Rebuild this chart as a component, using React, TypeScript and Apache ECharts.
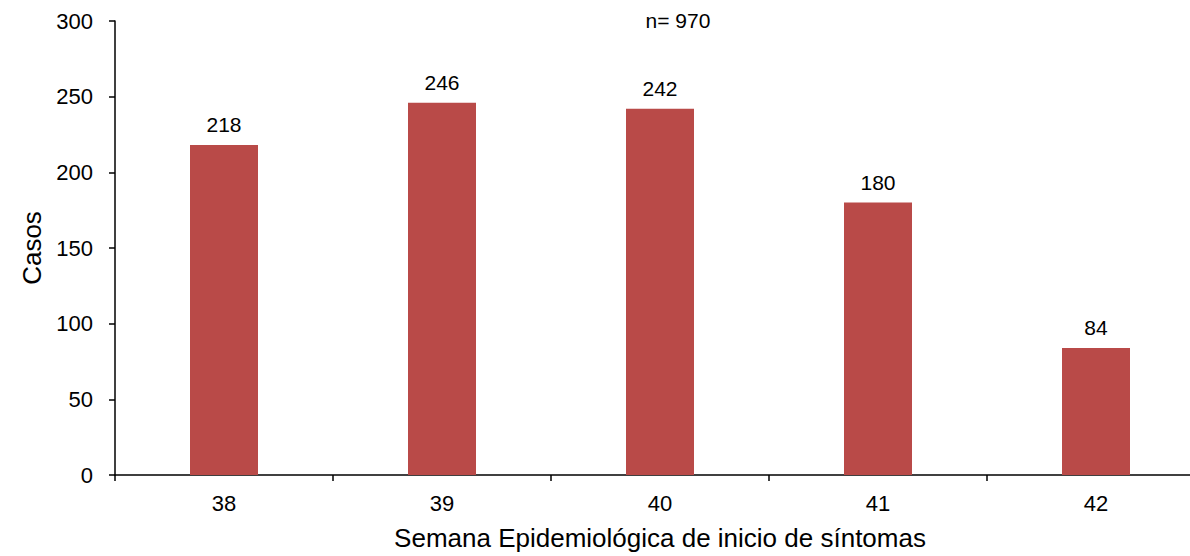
import React, { useEffect, useRef } from "react";
import * as echarts from "echarts";

const categories = ["38", "39", "40", "41", "42"];
const values = [218, 246, 242, 180, 84];
const yTicks = [0, 50, 100, 150, 200, 250, 300];
const annotation = "n= 970";

export default function App() {
  const ref = useRef<HTMLDivElement>(null);
  useEffect(() => {
    if (!ref.current) return;
    const chart = echarts.init(ref.current, null, { renderer: "svg" });
    const font = "Liberation Sans, Arial, sans-serif";
    chart.setOption({
      animation: false,
      backgroundColor: "#ffffff",
      textStyle: { fontFamily: font },
      grid: { left: 115, width: 1090, top: 21, height: 458, containLabel: false },
      graphic: [
        {
          type: "text",
          x: 678,
          y: 20,
          style: {
            text: annotation,
            fontSize: 21,
            fill: "#000",
            fontFamily: font,
            align: "center",
            verticalAlign: "middle",
          },
        },
      ],
      xAxis: {
        type: "category",
        data: categories,
        name: "Semana Epidemiológica de inicio de síntomas",
        nameLocation: "middle",
        nameGap: 50,
        nameTextStyle: { fontSize: 26, color: "#000", fontFamily: font },
        axisLine: { lineStyle: { color: "#000", width: 1.5 } },
        axisTick: { show: true, length: 6, lineStyle: { color: "#000", width: 1.5 } },
        axisLabel: { fontSize: 22, color: "#000", margin: 17, fontFamily: font },
      },
      yAxis: {
        type: "value",
        min: 0,
        max: yTicks[yTicks.length - 1],
        interval: 50,
        name: "Casos",
        nameLocation: "middle",
        nameGap: 70,
        nameRotate: 90,
        nameTextStyle: { fontSize: 26, color: "#000", fontFamily: font },
        axisLine: { show: true, lineStyle: { color: "#000", width: 1.5 } },
        axisTick: { show: true, length: 6, lineStyle: { color: "#000", width: 1.5 } },
        axisLabel: { fontSize: 22, color: "#000", margin: 22, fontFamily: font },
        splitLine: { show: false },
      },
      series: [
        {
          type: "bar",
          data: values,
          barWidth: 68,
          itemStyle: { color: "#B94A48" },
          label: {
            show: true,
            position: "top",
            distance: 10,
            fontSize: 21,
            color: "#000",
            fontFamily: font,
          },
        },
      ],
    });
    return () => chart.dispose();
  }, []);
  return (
    <div
      style={{
        position: "fixed",
        left: 0,
        top: 0,
        width: 1190,
        height: 556,
        overflow: "hidden",
        background: "#fff",
      }}
    >
      <div ref={ref} style={{ width: 1210, height: 556 }} />
    </div>
  );
}
